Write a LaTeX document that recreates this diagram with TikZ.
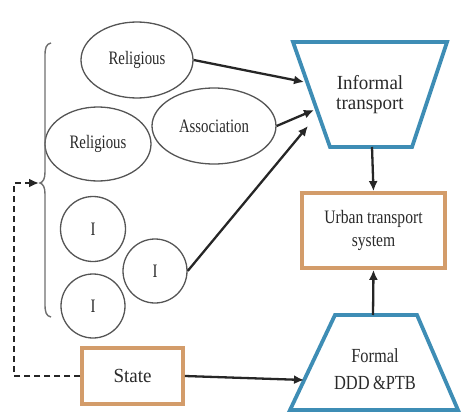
\documentclass[tikz,border=0pt]{standalone}
\usepackage{fontspec}
\setmainfont{Liberation Serif}
\newfontfamily\narrowserif[FakeStretch=0.78]{Liberation Serif}
\newfontfamily\boxserif[FakeStretch=0.82]{Liberation Serif}
\newfontfamily\wideserif[FakeStretch=0.95]{Liberation Serif}
\usetikzlibrary{shapes.geometric,arrows.meta}
\definecolor{tripblue}{HTML}{3E8DB5}
\definecolor{boxorange}{HTML}{D39C6A}
\definecolor{inkgray}{HTML}{262626}
\definecolor{outline}{HTML}{555555}
\definecolor{textgray}{HTML}{2A2A2A}

\begin{document}
\begin{tikzpicture}[x=1pt,y=-1pt,
  oval/.style={ellipse, draw=outline, line width=1.3pt, inner sep=0pt,
    text=textgray, font=\narrowserif\fontsize{19}{20}\selectfont},
  ring/.style={circle, draw=outline, line width=1.3pt, inner sep=0pt,
    text=textgray, font=\narrowserif\fontsize{19}{20}\selectfont},
  orangebox/.style={rectangle, draw=boxorange, line width=3.8pt, inner sep=0pt,
    fill=white, text=textgray, align=center},
  trapline/.style={draw=tripblue, line width=3.8pt, line join=miter},
  traptext/.style={align=center, text=textgray, inner sep=0pt},
  flow/.style={draw=inkgray, line width=2.3pt,
    -{Latex[length=10pt,width=9pt]}},
  dashflow/.style={draw=inkgray, line width=2.5pt, dash pattern=on 6pt off 4pt,
    -{Latex[length=10pt,width=9pt]}},
  bracket/.style={draw=outline!85, line width=1.4pt}
]
\useasboundingbox (0,0) rectangle (461,415);

% actor groups
\node[oval, minimum width=112, minimum height=76] (rel1) at (137,60) {Religious};
\node[oval, minimum width=106, minimum height=74] (rel2) at (98,144) {Religious};
\node[oval, minimum width=124, minimum height=76] (assoc) at (214,126) {Association};
\node[ring, minimum size=65] (ind1) at (93,229) {I};
\node[ring, minimum size=64] (ind2) at (93,306) {I};
\node[ring, minimum size=64] (ind3) at (155,271) {I};

% brace grouping the actors
\coordinate (bracetip) at (39,183);
\draw[bracket] (51,43) .. controls (46,44) and (45,48) .. (45,56)
  -- (45,172) .. controls (45,179) and (43,182) .. (40,183)
  .. controls (43,184) and (45,187) .. (45,194)
  -- (45,304) .. controls (45,312) and (46,316) .. (51,317);

% informal transport (inverted trapezium)
\draw[trapline] (293,42) -- (447,42) -- (412,147) -- (330,147) -- cycle;
\node[traptext, font=\wideserif\fontsize{20}{20}\selectfont] (informal) at (370,95)
  {Informal\\transport};
\coordinate (inf-a) at (304,82);
\coordinate (inf-b) at (314,110);
\coordinate (inf-c) at (308,126);
\coordinate (inf-bot) at (372,147);

% formal transport (trapezium)
\draw[trapline] (335,315) -- (417,315) -- (458,410) -- (290,410) -- cycle;
\node[traptext, font=\boxserif\fontsize{20}{27}\selectfont] (formal) at (375,369)
  {Formal\\DDD\,\&PTB};
\coordinate (for-top) at (373,315);
\coordinate (for-in) at (304,380);

% boxes
\node[orangebox, minimum width=143, minimum height=75,
  font=\boxserif\fontsize{19}{23}\selectfont] (urban) at (373.5,230.5)
  {Urban transport\\system};
\node[orangebox, minimum width=101, minimum height=56,
  font=\wideserif\fontsize{20}{20}\selectfont] (state) at (132.5,376) {State};

% connectors
\draw[flow] (rel1.east) -- (inf-a);
\draw[flow] (assoc.east) -- (inf-b);
\draw[flow] (ind3.east) -- (inf-c);
\draw[flow] (inf-bot) -- (urban.north);
\draw[flow] (for-top) -- (urban.south);
\draw[flow] (state.east) -- (for-in);
\draw[dashflow] (state.west) -| (14,183) -- (bracetip);
\end{tikzpicture}
\end{document}
